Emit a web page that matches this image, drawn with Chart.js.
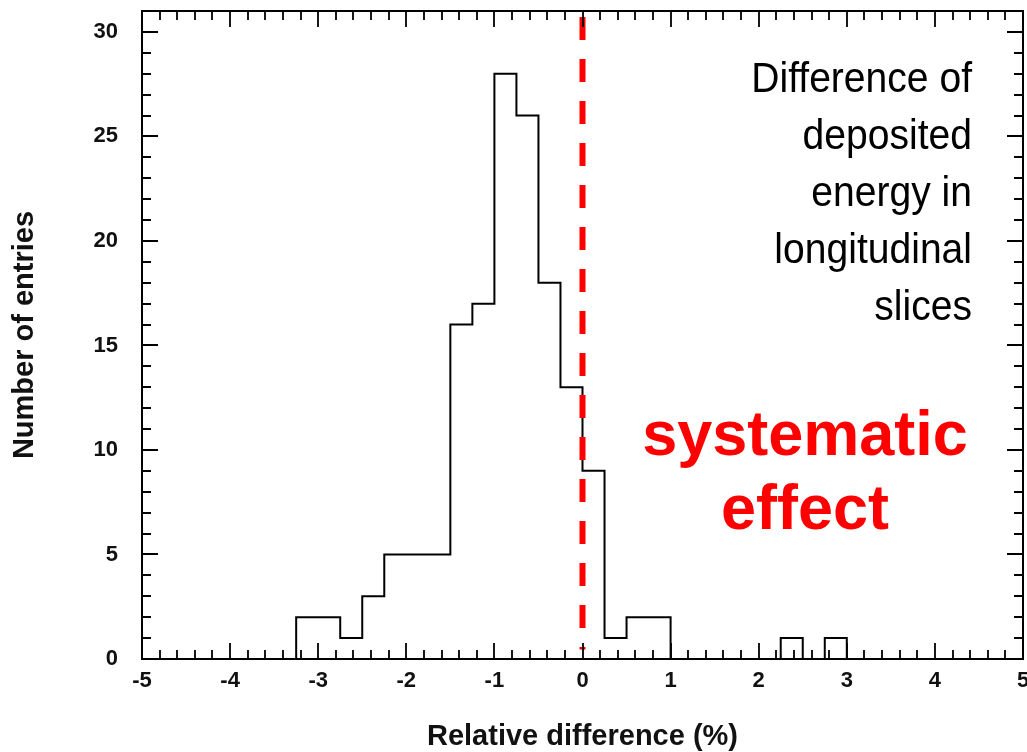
<!DOCTYPE html>
<html>
<head>
<meta charset="utf-8">
<script src="https://cdn.jsdelivr.net/npm/chart.js@4.4.1/dist/chart.umd.min.js"></script>
<style>
    html, body { margin: 0; padding: 0; background: #fff; }
</style>
</head>
<body>
<canvas id="grafico" width="1027" height="752"></canvas>
<script>
// histogram: 40 bins of 0.25 from -5 to 5
const binStart = -5;
const binWidth = 0.25;
const entries = [
    0, 0, 0, 0, 0, 0, 0,
    2, 2, 1, 3, 5, 5, 5, 16, 17, 28, 26, 18, 13, 9, 1, 2, 2,
    0, 0, 0, 0, 0, 1, 0, 1,
    0, 0, 0, 0, 0, 0, 0, 0
];

// dashed reference line at zero
const refX = 0;
const refY = [31, 0.45];

const noteLines = ["Difference of", "deposited", "energy in", "longitudinal", "slices"];
const effectLines = ["systematic", "effect"];

const xTitle = "Relative difference (%)";
const yTitle = "Number of entries";

// step points at the low edge of each bin, plus the last upper edge
const histPoints = entries.map((v, i) => ({ x: binStart + i * binWidth, y: v }));
histPoints.push({ x: binStart + entries.length * binWidth, y: entries[entries.length - 1] });

const refPoints = refY.map(v => ({ x: refX, y: v }));

const fonteEixo = '"Liberation Sans", Arial, sans-serif';

// frame + inward ticks on all four sides, like the ROOT style
const molduraPlugin = {
    id: "moldura",
    afterDatasetsDraw(chart) {
        const ctx = chart.ctx;
        const a = chart.chartArea;
        const xs = chart.scales.x;
        const ys = chart.scales.y;
        ctx.save();
        ctx.strokeStyle = "#000";
        ctx.lineWidth = 2;
        ctx.strokeRect(a.left, a.top, a.right - a.left, a.bottom - a.top);

        ctx.lineWidth = 1.8;
        ctx.beginPath();
        for (let k = 0; k <= 50; k++) {
            const v = -5 + k * 0.2;
            const px = Math.round(xs.getPixelForValue(v));
            const len = (k % 5 === 0) ? 16 : 9;
            ctx.moveTo(px, a.bottom);
            ctx.lineTo(px, a.bottom - len);
            ctx.moveTo(px, a.top);
            ctx.lineTo(px, a.top + len);
        }
        for (let v = 0; v <= 31; v++) {
            const py = Math.round(ys.getPixelForValue(v));
            const len = (v % 5 === 0) ? 16 : 9;
            ctx.moveTo(a.left, py);
            ctx.lineTo(a.left + len, py);
            ctx.moveTo(a.right, py);
            ctx.lineTo(a.right - len, py);
        }
        ctx.stroke();

        // right hand note, squeezed to look like a narrow face
        ctx.fillStyle = "#000";
        ctx.textAlign = "right";
        ctx.textBaseline = "alphabetic";
        ctx.font = '42px "Liberation Sans", Arial, sans-serif';
        noteLines.forEach((linha, i) => {
            ctx.save();
            ctx.translate(972, 92 + i * 57);
            ctx.scale(0.93, 1);
            ctx.fillText(linha, 0, 0);
            ctx.restore();
        });

        ctx.fillStyle = "#ff0000";
        ctx.textAlign = "center";
        ctx.font = 'bold 63px "Liberation Sans", Arial, sans-serif';
        effectLines.forEach((linha, i) => {
            ctx.fillText(linha, 805, 455 + i * 74);
        });
        ctx.restore();
    }
};

const ctx = document.getElementById("grafico").getContext("2d");
const grafico = new Chart(ctx, {
    type: "line",
    data: {
        datasets: [
            {
                label: "zero",
                data: refPoints,
                borderColor: "#ff0000",
                borderWidth: 6,
                borderDash: [23, 19],
                borderDashOffset: 36,
                pointRadius: 0,
                fill: false,
                order: 0
            },
            {
                label: "entries",
                data: histPoints,
                stepped: "before",
                borderColor: "#000",
                borderWidth: 2,
                pointRadius: 0,
                fill: false,
                order: 1
            }
        ]
    },
    options: {
        responsive: false,
        animation: false,
        devicePixelRatio: 1,
        layout: { padding: { top: 11, right: 4, left: 0, bottom: 0 } },
        plugins: {
            legend: { display: false },
            tooltip: { enabled: false }
        },
        scales: {
            x: {
                type: "linear",
                min: -5,
                max: 5,
                grid: { display: false, drawTicks: false },
                border: { display: false },
                ticks: {
                    stepSize: 1,
                    padding: 9,
                    color: "#111",
                    font: { family: fonteEixo, size: 22, weight: "bold" }
                },
                title: {
                    display: true,
                    text: xTitle,
                    color: "#111",
                    padding: { top: 0, bottom: 1 },
                    font: { family: fonteEixo, size: 29, weight: "bold", lineHeight: 1 }
                },
                afterFit(scale) {
                    scale.height = 93;
                    scale.paddingLeft = 0;
                    scale.paddingRight = 0;
                }
            },
            y: {
                min: 0,
                max: 31,
                grid: { display: false, drawTicks: false },
                border: { display: false },
                ticks: {
                    stepSize: 5,
                    includeBounds: false,
                    padding: 24,
                    color: "#111",
                    font: { family: fonteEixo, size: 22, weight: "bold" }
                },
                title: {
                    display: true,
                    text: yTitle,
                    color: "#111",
                    padding: { top: 10, bottom: 0 },
                    font: { family: fonteEixo, size: 29, weight: "bold", lineHeight: 1 }
                },
                afterFit(scale) {
                    scale.width = 142;
                    scale.paddingTop = 0;
                    scale.paddingBottom = 0;
                }
            }
        }
    },
    plugins: [molduraPlugin]
});
</script>
</body>
</html>
